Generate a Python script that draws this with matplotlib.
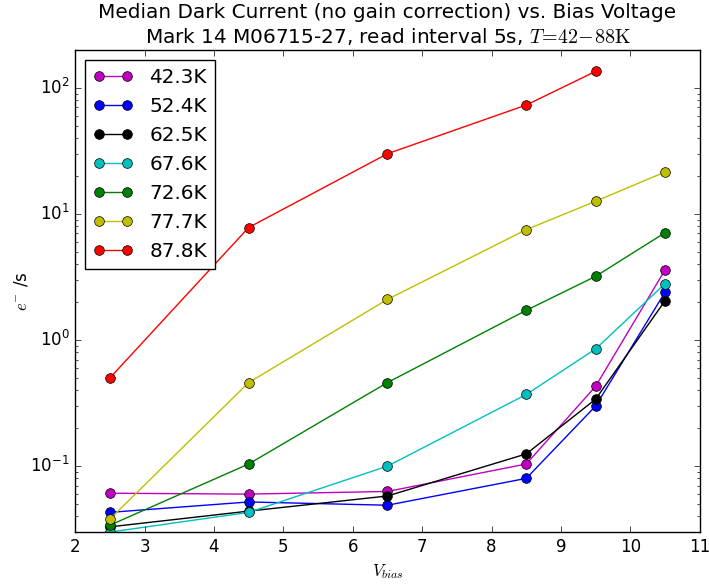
import matplotlib
matplotlib.use('Agg')
import matplotlib.pyplot as plt

# bias voltages (V)
vbias = [2.5, 4.5, 6.5, 8.5, 9.5, 10.5]

# median dark current (e-/s) per temperature
temps = ['42.3K', '52.4K', '62.5K', '67.6K', '72.6K', '77.7K', '87.8K']
dc_423 = [0.061, 0.060, 0.063, 0.104, 0.43, 3.6]
dc_524 = [0.043, 0.052, 0.049, 0.080, 0.30, 2.4]
dc_625 = [0.033, 0.044, 0.058, 0.125, 0.34, 2.05]
dc_676 = [0.030, 0.043, 0.100, 0.37, 0.85, 2.8]
dc_726 = [0.034, 0.104, 0.46, 1.72, 3.2, 7.1]
dc_777 = [0.038, 0.46, 2.1, 7.5, 12.6, 21.5]
dc_878 = [0.50, 7.8, 30.0, 73.0, 135.0]
colors = ['m', 'b', 'k', 'c', 'g', 'y', 'r']

plt.style.use('classic')
fig = plt.figure(figsize=(7.09, 5.86), dpi=100)
ax = fig.add_axes([0.106, 0.092, 0.881, 0.823])

series = [dc_423, dc_524, dc_625, dc_676, dc_726, dc_777, dc_878]
for lab, dc, col in zip(temps, series, colors):
    ax.plot(vbias[:len(dc)], dc, 'o-', color=col, label=lab, markersize=7)

ax.set_yscale('log')
ax.set_xlim(2, 11)
ax.set_ylim(0.03, 200)
ax.set_xlabel(r'$V_{bias}$')
ax.set_ylabel(r'$e^{-}$ /s', labelpad=0)
ax.set_title('Median Dark Current (no gain correction) vs. Bias Voltage\n'
             r'Mark 14 M06715-27, read interval 5s, $T\!=\!42\!-\!88\mathrm{K}$')
ax.legend(loc='upper left', fontsize='large')

fig.savefig('out.png', dpi=100)
